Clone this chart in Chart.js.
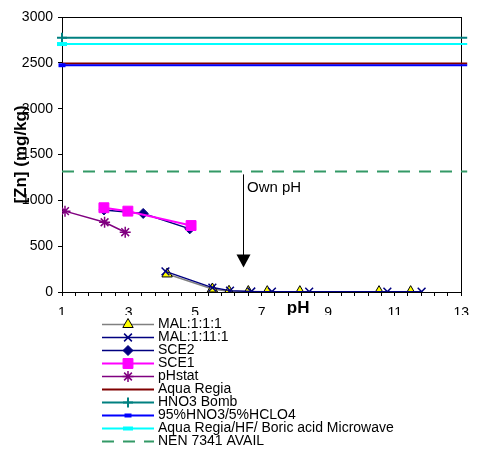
<!DOCTYPE html>
<html>
<head>
<meta charset="utf-8">
<title>[Zn] vs pH</title>
<script src="https://cdn.jsdelivr.net/npm/chart.js"></script>
<style>
  html, body { margin: 0; padding: 0; background: #fff; }
  canvas { display: block; }
</style>
</head>
<body>
<canvas id="znChart" width="478" height="462"></canvas>
<script>
// Leaching tests: pH of each step and the Zn found (mg/kg)
const mal111PH = [4.16, 5.52, 6.02, 6.6, 7.17, 8.15, 10.53, 11.48];
const mal111Zn = [197, 33, 8, 5, 4, 4, 4, 4];
const mal1111PH = [4.11, 5.52, 6.05, 6.69, 7.31, 8.43, 10.78, 11.81];
const mal1111Zn = [225, 48, 15, 5, 4, 3, 3, 3];
const sce2PH = [2.26, 3.44, 4.84];
const sce2Zn = [895, 857, 689];
const sce1PH = [2.26, 2.98, 4.88];
const sce1Zn = [919, 882, 725];
const phstatPH = [1.09, 2.28, 2.9];
const phstatZn = [882, 761, 652];

// Total digestions, flat across the pH range
const flatRangePH = [1, 13.18];
const aquaRegiaZn = 2492;
const hno3BombZn = 2775;
const hno3Hclo4Zn = 2474;
const microwaveZn = 2705;
const nen7341Zn = 1315;

// Axes
const xTickLabels = [1, 3, 5, 7, 9, 11, 13];
const xMinorStep = 0.4;
const yTickValues = [0, 500, 1000, 1500, 2000, 2500, 3000];

// "Own pH" arrow (pH, Zn top, Zn tip)
const ownPHText = 'Own pH';
const ownPHAt = 6.44;
const ownPHTop = 1283;
const ownPHTip = 266;
const xTitleAt = 8.1;

const pts = (xs, ys) => xs.map((x, i) => ({ x: x, y: ys[i] }));
const flat = (v) => flatRangePH.map((x) => ({ x: x, y: v }));

Chart.defaults.font.family = 'Arial, "Liberation Sans", sans-serif';
Chart.defaults.color = '#000';

const datasets = [
  { label: 'MAL:1:1:1', data: pts(mal111PH, mal111Zn), borderColor: '#808080', borderWidth: 1.5,
    pointStyle: 'triangle', pointRadius: 6, pointBackgroundColor: '#FFFF00', pointBorderColor: '#000', pointBorderWidth: 1 },
  { label: 'MAL:1:11:1', data: pts(mal1111PH, mal1111Zn), borderColor: '#000080', borderWidth: 1.5,
    pointStyle: 'crossRot', pointRadius: 5.5, pointBackgroundColor: '#000080', pointBorderColor: '#000080', pointBorderWidth: 1.5 },
  { label: 'SCE2', data: pts(sce2PH, sce2Zn), borderColor: '#000080', borderWidth: 1.5,
    pointStyle: 'rectRot', pointRadius: 5, pointBackgroundColor: '#000080', pointBorderColor: '#000080', pointBorderWidth: 1 },
  { label: 'SCE1', data: pts(sce1PH, sce1Zn), borderColor: '#FF00FF', borderWidth: 2,
    pointStyle: 'rect', pointRadius: 7, pointBackgroundColor: '#FF00FF', pointBorderColor: '#FF00FF', pointBorderWidth: 1 },
  { label: 'pHstat', data: pts(phstatPH, phstatZn), borderColor: '#800080', borderWidth: 1.5,
    pointStyle: 'star', pointRadius: 5.5, pointBackgroundColor: '#800080', pointBorderColor: '#800080', pointBorderWidth: 1.5 },
  { label: 'Aqua Regia', data: flat(aquaRegiaZn), borderColor: '#800000', borderWidth: 2,
    pointRadius: 0, clip: false },
  { label: 'HNO3 Bomb', data: flat(hno3BombZn), borderColor: '#008080', borderWidth: 2,
    pointStyle: 'cross', pointRadius: [5, 0], pointBorderColor: '#008080', pointBorderWidth: 2, clip: false },
  { label: '95%HNO3/5%HCLO4', data: flat(hno3Hclo4Zn), borderColor: '#0000FF', borderWidth: 2,
    pointStyle: 'line', pointRadius: [3.5, 0], pointBorderColor: '#0000FF', pointBorderWidth: 4, clip: false },
  { label: 'Aqua Regia/HF/ Boric acid Microwave', data: flat(microwaveZn), borderColor: '#00FFFF', borderWidth: 2,
    pointStyle: 'line', pointRadius: [5, 0], pointBorderColor: '#00FFFF', pointBorderWidth: 4, clip: false },
  { label: 'NEN 7341 AVAIL', data: flat(nen7341Zn), borderColor: '#339966', borderWidth: 2, borderDash: [12, 9],
    pointRadius: 0, clip: false }
];
// later series sit on top, as in the original
datasets.forEach((d, i) => { d.showLine = true; d.order = -i; d.fill = false; });

// box round the plot area
const plotFrame = {
  id: 'plotFrame',
  beforeDatasetsDraw(chart) {
    const { ctx, chartArea: a } = chart;
    ctx.save();
    ctx.strokeStyle = '#000';
    ctx.lineWidth = 1;
    ctx.strokeRect(Math.round(a.left) + 0.5, Math.round(a.top) + 0.5, Math.round(a.width), Math.round(a.height));
    ctx.restore();
  }
};

// arrow + label for the own pH
const ownPHArrow = {
  id: 'ownPHArrow',
  afterDatasetsDraw(chart) {
    const { ctx, scales } = chart;
    const x = Math.round(scales.x.getPixelForValue(ownPHAt)) + 0.5;
    const y1 = scales.y.getPixelForValue(ownPHTop);
    const y2 = scales.y.getPixelForValue(ownPHTip);
    ctx.save();
    ctx.strokeStyle = '#000';
    ctx.fillStyle = '#000';
    ctx.lineWidth = 1;
    ctx.beginPath();
    ctx.moveTo(x, y1);
    ctx.lineTo(x, y2 - 10);
    ctx.stroke();
    ctx.beginPath();
    ctx.moveTo(x - 7, y2 - 13);
    ctx.lineTo(x + 7, y2 - 13);
    ctx.lineTo(x, y2);
    ctx.closePath();
    ctx.fill();
    ctx.font = '15px Arial, "Liberation Sans", sans-serif';
    ctx.textBaseline = 'middle';
    ctx.fillText(ownPHText, x + 3.5, y1 + 13);
    ctx.restore();
  }
};

// x title, then the legend box underneath (it hides the lower half of the tick labels)
const bottomLegend = {
  id: 'bottomLegend',
  afterDraw(chart) {
    const { ctx, width, height, scales } = chart;
    ctx.save();
    ctx.fillStyle = '#000';
    ctx.font = 'bold 17px Arial, "Liberation Sans", sans-serif';
    ctx.textAlign = 'center';
    ctx.textBaseline = 'alphabetic';
    ctx.fillText('pH', scales.x.getPixelForValue(xTitleAt), 313);

    const boxTop = 315;
    ctx.fillStyle = '#fff';
    ctx.fillRect(0, boxTop, width, height - boxTop);

    const lineL = 102, lineR = 154, textX = 158, rowY = 324, rowH = 13.05;
    ctx.font = '14px Arial, "Liberation Sans", sans-serif';
    ctx.textAlign = 'left';
    ctx.textBaseline = 'middle';
    chart.data.datasets.forEach((ds, i) => {
      const y = Math.round(rowY + i * rowH) + 0.5;
      ctx.strokeStyle = ds.borderColor;
      ctx.lineWidth = ds.borderWidth;
      ctx.setLineDash(ds.borderDash || []);
      ctx.beginPath();
      ctx.moveTo(lineL, y);
      ctx.lineTo(lineR, y);
      ctx.stroke();
      ctx.setLineDash([]);
      const r = Array.isArray(ds.pointRadius) ? ds.pointRadius[0] : ds.pointRadius;
      if (r > 0) {
        ctx.fillStyle = ds.pointBackgroundColor || ds.borderColor;
        ctx.strokeStyle = ds.pointBorderColor;
        ctx.lineWidth = ds.pointBorderWidth;
        Chart.helpers.drawPoint(ctx, { pointStyle: ds.pointStyle, radius: r, borderWidth: ds.pointBorderWidth, rotation: 0 },
          (lineL + lineR) / 2, y);
      }
      ctx.fillStyle = '#000';
      ctx.fillText(ds.label, textX, y);
    });
    ctx.restore();
  }
};

new Chart(document.getElementById('znChart'), {
  type: 'scatter',
  data: { datasets: datasets },
  options: {
    responsive: false,
    animation: false,
    events: [],
    layout: { padding: { left: 0, top: 17, right: 13, bottom: 0 } },
    plugins: { legend: { display: false }, tooltip: { enabled: false } },
    scales: {
      x: {
        type: 'linear',
        min: 1,
        max: 13,
        afterFit: (s) => { s.height = 170; },
        grid: { display: true, drawOnChartArea: false, drawTicks: true, tickLength: 4, color: '#000' },
        border: { display: true, color: '#000', width: 1 },
        ticks: {
          stepSize: xMinorStep,
          autoSkip: false,
          maxRotation: 0,
          minRotation: 0,
          padding: 9,
          font: { size: 14 },
          color: '#000',
          callback: (v) => {
            const r = Math.round(v);
            return Math.abs(v - r) < 1e-6 && xTickLabels.includes(r) ? String(r) : '';
          }
        }
      },
      y: {
        type: 'linear',
        min: 0,
        max: 3000,
        afterFit: (s) => { s.width = 62; },
        afterBuildTicks: (s) => { s.ticks = yTickValues.map((v) => ({ value: v })); },
        grid: { display: true, drawOnChartArea: false, drawTicks: true, tickLength: 4, color: '#000' },
        border: { display: true, color: '#000', width: 1 },
        ticks: { padding: 5, font: { size: 14 }, color: '#000', callback: (v) => String(v) },
        title: {
          display: true,
          text: '[Zn] (mg/kg)',
          font: { size: 17, weight: 'bold' },
          color: '#000',
          padding: { top: 11, bottom: 0 }
        }
      }
    }
  },
  plugins: [plotFrame, ownPHArrow, bottomLegend]
});
</script>
</body>
</html>
